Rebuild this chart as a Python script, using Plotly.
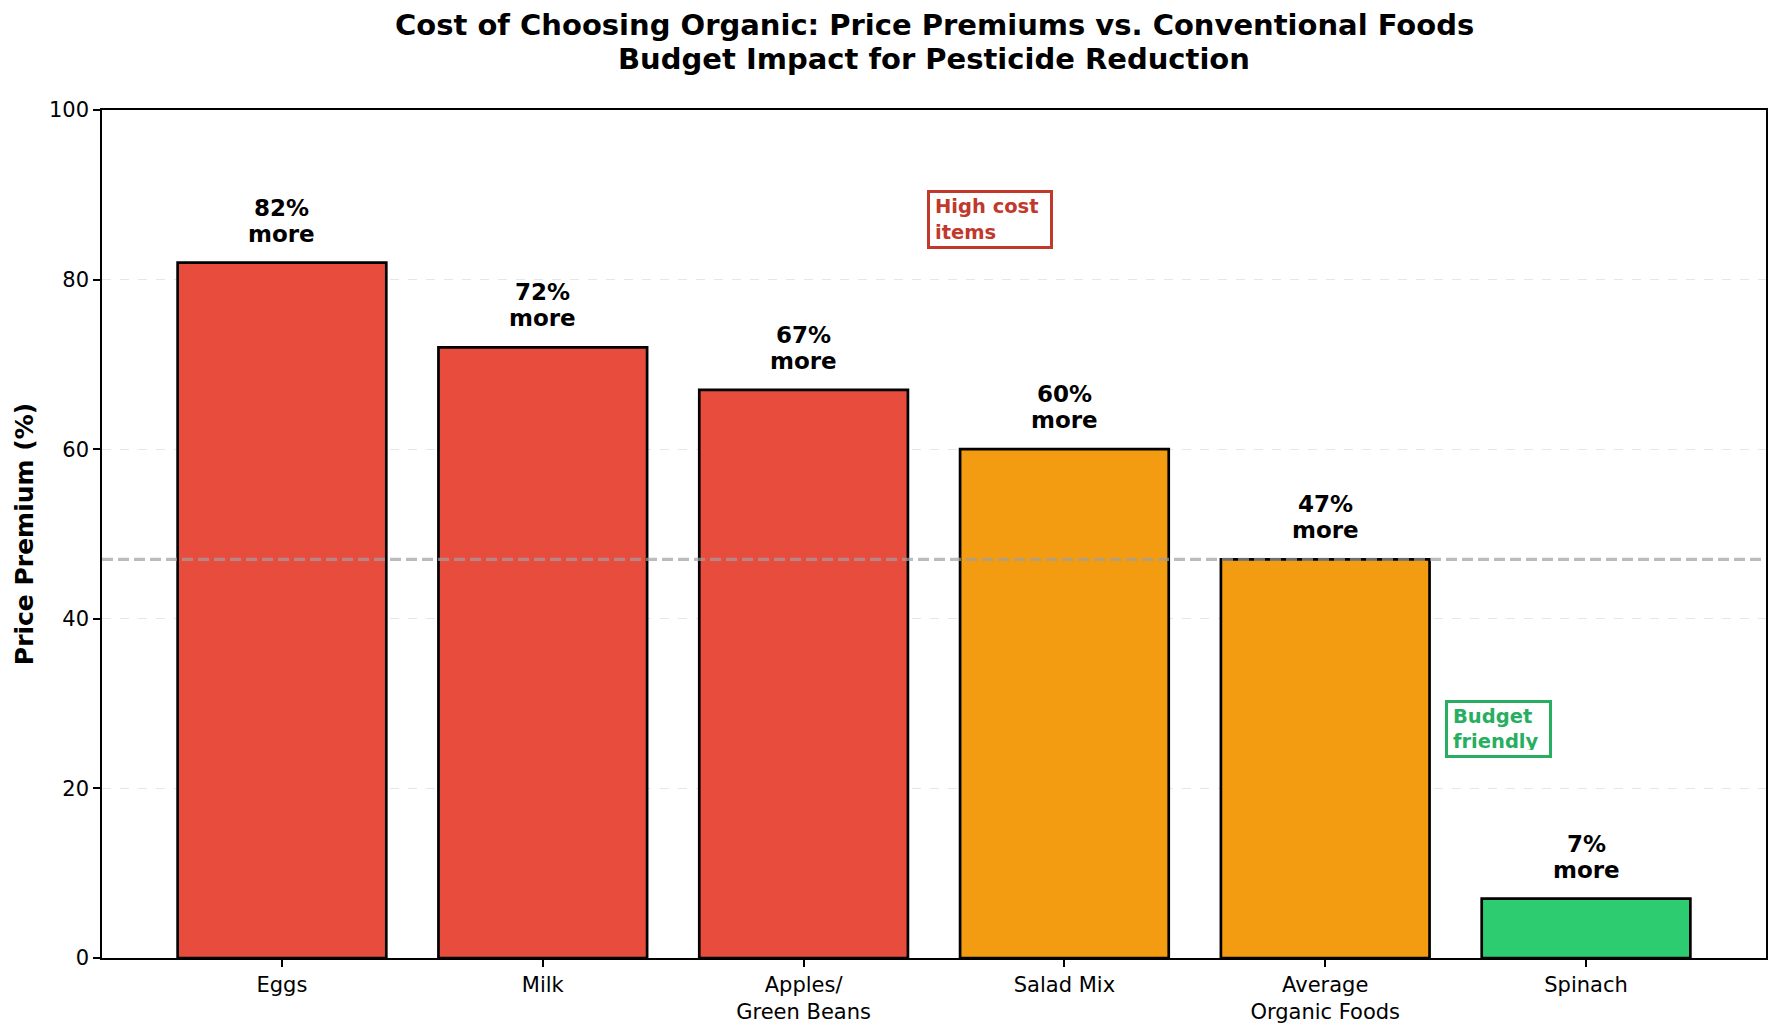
import plotly.graph_objects as go

categories = ["Eggs", "Milk", "Apples/<br>Green Beans", "Salad Mix", "Average<br>Organic Foods", "Spinach"]
premiums = [82, 72, 67, 60, 47, 7]
bar_colors = ["#E74C3C", "#E74C3C", "#E74C3C", "#F39C12", "#F39C12", "#2ECC71"]
average_premium = 47
y_ticks = [0, 20, 40, 60, 80, 100]
title_lines = ["Cost of Choosing Organic: Price Premiums vs. Conventional Foods",
               "Budget Impact for Pesticide Reduction"]

FONT = "DejaVu Sans"
x_idx = list(range(len(categories)))

fig = go.Figure()
fig.add_trace(go.Bar(
    x=x_idx, y=premiums, width=0.8,
    marker=dict(color=bar_colors, line=dict(color="black", width=2.7)),
    hoverinfo="skip",
))

# average line
fig.add_shape(type="line", xref="paper", x0=0, x1=1, yref="y", y0=average_premium, y1=average_premium,
              line=dict(color="rgba(160,160,160,0.7)", width=3.2, dash="11px,5px"), layer="above")

annotations = []
for i, v in enumerate(premiums):
    annotations.append(dict(
        x=i, y=v, xref="x", yref="y", text="<b>more</b>", yshift=29,
        showarrow=False, yanchor="middle", xanchor="center",
        font=dict(family=FONT, size=23, color="black"),
    ))
    annotations.append(dict(
        x=i, y=v, xref="x", yref="y", text=f"<b>{v}%</b>", yshift=55,
        showarrow=False, yanchor="middle", xanchor="center",
        font=dict(family=FONT, size=23, color="black"),
    ))

annotations.append(dict(
    x=2.474, y=87.1, xref="x", yref="y", text="<b>High cost<br>items</b>", align="left", valign="middle",
    showarrow=False, xanchor="left", yanchor="middle", width=110, height=43,
    font=dict(family=FONT, size=19.5, color="#C0392B"),
    bgcolor="white", bordercolor="#C0392B", borderwidth=3, borderpad=5,
))
annotations.append(dict(
    x=4.458, y=27.06, xref="x", yref="y", text="<b>Budget<br>friendly</b>", align="left", valign="middle",
    showarrow=False, xanchor="left", yanchor="middle", width=91, height=42,
    font=dict(family=FONT, size=19.5, color="#27AE60"),
    bgcolor="white", bordercolor="#27AE60", borderwidth=3, borderpad=5,
))

# title (two lines, matplotlib-like line spacing)
for line, ypix in zip(title_lines, [25, 59]):
    annotations.append(dict(
        x=0.5, y=1 + (110 - ypix) / 848, xref="paper", yref="paper",
        text=f"<b>{line}</b>",
        showarrow=False, xanchor="center", yanchor="middle",
        font=dict(family=FONT, size=29, color="black"),
    ))

fig.update_layout(
    width=1782, height=1031,
    margin=dict(l=102, r=16, t=110, b=73, autoexpand=False),
    paper_bgcolor="white", plot_bgcolor="white",
    showlegend=False,
    font=dict(family=FONT, color="black"),
    xaxis=dict(
        tickmode="array", tickvals=x_idx, ticktext=categories, automargin=False,
        range=[-0.69, 5.69], showgrid=False, zeroline=False,
        showline=True, linecolor="black", linewidth=1.5, mirror=True,
        ticks="outside", ticklen=7, tickwidth=1.5, tickcolor="black",
        tickfont=dict(family=FONT, size=21, color="black"),
    ),
    yaxis=dict(
        range=[0, 100], tickvals=y_ticks, zeroline=False, automargin=False,
        showgrid=True, gridcolor="rgba(200,200,200,0.45)", griddash="dash", gridwidth=1,
        showline=True, linecolor="black", linewidth=1.5, mirror=True,
        ticks="outside", ticklen=7, tickwidth=1.5, tickcolor="black",
        tickfont=dict(family=FONT, size=21, color="black"),
        title=dict(text="<b>Price Premium (%)</b>", font=dict(family=FONT, size=25, color="black"), standoff=8),
    ),
    annotations=annotations,
)

fig.write_html("out.html")
